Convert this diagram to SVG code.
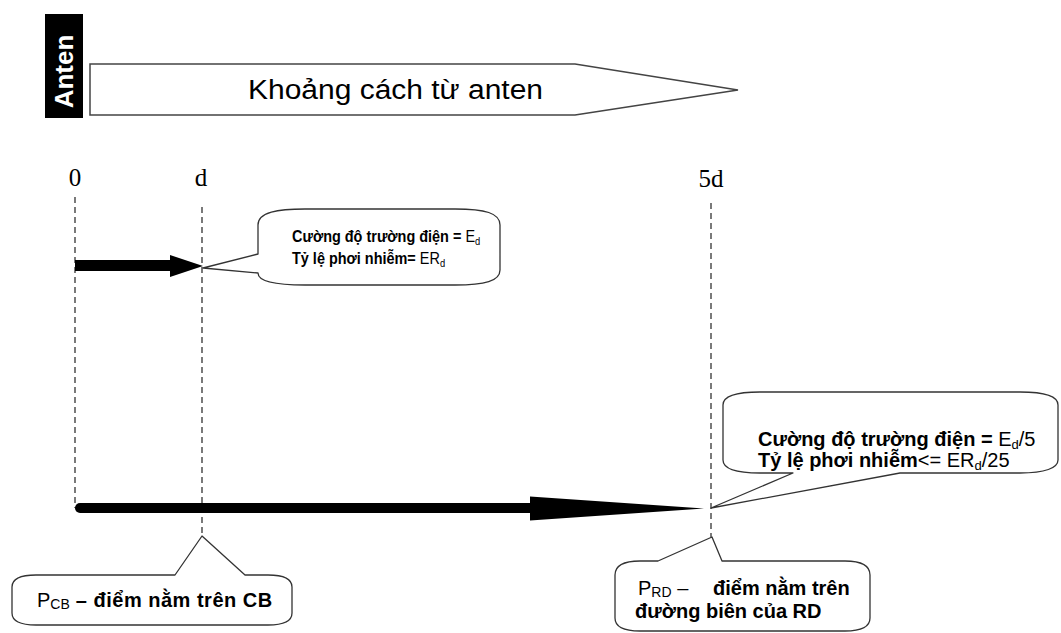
<svg xmlns="http://www.w3.org/2000/svg" width="1061" height="633" viewBox="0 0 1061 633">
<style>
.bg{fill:#ffffff}
.guide{stroke:#333;stroke-width:1.3;stroke-dasharray:6 4;fill:none}
.callout{fill:#ffffff;stroke:#333;stroke-width:1.3;stroke-linejoin:round}
.arrow{fill:#000}
.tick{font-family:"Liberation Serif","Times New Roman",serif;font-size:25px;fill:#000;text-anchor:middle}
.b{font-family:"Liberation Sans",Arial,sans-serif;font-weight:bold;fill:#000}
.r{font-weight:normal}
.s17{font-size:17px}
.s20{font-size:20px}
</style>
<rect class="bg" x="0" y="0" width="1061" height="633"/>

<g id="antenna">
  <rect x="45" y="14" width="38" height="104" fill="#000"/>
  <text x="73" y="71.5" transform="rotate(-90 73 71.5)" text-anchor="middle" font-family="'Liberation Sans',Arial,sans-serif" font-weight="bold" font-size="26" fill="#fff">Anten</text>
</g>

<g id="distance-arrow">
  <polygon points="90,64 575,64 738,90 575,115 90,115" fill="#fff" stroke="#444" stroke-width="1.5"/>
  <text x="248" y="99" font-family="'Liberation Sans',Arial,sans-serif" font-size="27" fill="#000" textLength="295" lengthAdjust="spacingAndGlyphs">Khoảng cách từ anten</text>
</g>

<g id="ticks">
  <text class="tick" x="75" y="186">0</text>
  <text class="tick" x="201" y="186">d</text>
  <text class="tick" x="711" y="187">5d</text>
</g>

<g id="guides">
  <line class="guide" x1="75" y1="197" x2="75" y2="508"/>
  <line class="guide" x1="202" y1="207" x2="202" y2="535"/>
  <line class="guide" x1="711" y1="203" x2="711" y2="537"/>
</g>

<g id="connectors">
  <g id="arrow-0-d">
    <rect class="arrow" x="75" y="260" width="98" height="11"/>
    <polygon class="arrow" points="170,255 203,266 170,277"/>
  </g>
  <g id="arrow-0-5d">
    <rect class="arrow" x="75" y="503" width="462" height="10" rx="5"/>
    <polygon class="arrow" points="530,496.5 704,508.5 530,520.5"/>
  </g>
</g>

<g id="callout-d">
  <path class="callout" d="M203,268 L258,254 L258,225 C258,212 278,209 305,209 L455,209 C485,209 500,213 500,225 L500,270 C500,281 485,285 455,285 L305,285 C278,285 258,282 258,273 Z"/>
  <text class="b s17" transform="translate(292,242) scale(0.85,1)" x="0" y="0">Cường độ trường điện = <tspan class="r">E</tspan><tspan class="r" font-size="11" dy="3">d</tspan></text>
  <text class="b s17" transform="translate(292,264) scale(0.85,1)" x="0" y="0">Tỷ lệ phơi nhiễm= <tspan class="r">ER</tspan><tspan class="r" font-size="11" dy="3">d</tspan></text>
</g>

<g id="callout-5d">
  <path class="callout" d="M711,508 L793,473 L760,473 C735,473 723,468 723,460 L723,405 C723,396 735,392 760,392 L1020,392 C1045,392 1058,396 1058,405 L1058,460 C1058,468 1045,473 1020,473 L900,473 Z"/>
  <text class="b s20" x="758" y="446">Cường độ trường điện = <tspan class="r">E</tspan><tspan class="r" font-size="13" dy="3">d</tspan><tspan class="r" dy="-3">/5</tspan></text>
  <text class="b s20" x="758" y="467">Tỷ lệ phơi nhiễm<tspan class="r">&lt;= ER</tspan><tspan class="r" font-size="13" dy="3">d</tspan><tspan class="r" dy="-3">/25</tspan></text>
</g>

<g id="callout-pcb">
  <path class="callout" d="M202,536 L245,575 L268,575 C284,575 292,579 292,587 L292,613 C292,621 284,625 268,625 L36,625 C20,625 12,621 12,613 L12,587 C12,579 20,575 36,575 L175,575 Z"/>
  <text class="b s20" x="37" y="607"><tspan class="r">P</tspan><tspan class="r" font-size="14" dy="2">CB</tspan><tspan dy="-2" letter-spacing="0.5"> – điểm nằm trên CB</tspan></text>
</g>

<g id="callout-prd">
  <path class="callout" d="M712,537 L722,561 L845,561 C862,561 870,566 870,575 L870,618 C870,627 862,631 845,631 L640,631 C623,631 615,627 615,618 L615,575 C615,566 623,561 640,561 L658,561 Z"/>
  <text class="b s20" x="638" y="595"><tspan class="r">P</tspan><tspan class="r" font-size="14" dy="2">RD</tspan><tspan class="r" dy="-2"> –</tspan><tspan x="713">điểm nằm trên</tspan></text>
  <text class="b s20" x="635" y="618">đường biên của RD</text>
</g>
</svg>
